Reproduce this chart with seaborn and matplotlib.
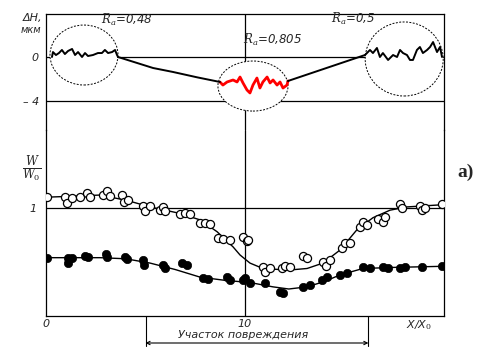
import numpy as np
import pandas as pd
import matplotlib
matplotlib.use("Agg")
import matplotlib.pyplot as plt
from matplotlib.patches import Ellipse
import seaborn as sns

# ---------------- data ----------------
prof1_x = [0.30, 0.35, 0.50, 0.65, 0.80, 0.95, 1.11, 1.31, 1.46, 1.61, 1.81, 1.96, 2.11, 2.36, 2.61, 2.81, 2.96, 3.12, 3.32, 3.47, 3.57, 3.62]
prof1_y = [0.00, 0.45, 0.18, 0.36, 0.64, 0.27, 0.55, 0.73, 0.18, 0.45, 0.00, 0.36, 0.09, 0.18, 0.36, 0.36, 0.64, 0.36, 0.45, 0.64, 0.18, 0.00]
prof2_x = [8.74, 8.89, 9.10, 9.40, 9.60, 9.75, 9.90, 10.10, 10.25, 10.40, 10.60, 10.75, 10.90, 11.11, 11.26, 11.41, 11.61, 11.76, 11.91, 12.11, 12.16]
prof2_y = [-2.27, -2.55, -2.27, -2.09, -2.27, -1.82, -2.36, -3.00, -3.27, -2.55, -1.91, -2.82, -2.27, -1.82, -2.36, -2.09, -2.55, -2.27, -2.82, -2.55, -2.18]
prof3_x = [16.03, 16.28, 16.43, 16.63, 16.78, 16.93, 17.19, 17.44, 17.64, 17.79, 17.94, 18.14, 18.29, 18.44, 18.64, 18.79, 18.94, 19.15, 19.30, 19.45, 19.65, 19.80, 19.90]
prof3_y = [0.18, 0.64, 0.36, 0.82, 0.00, 0.36, -0.27, 0.18, 0.00, 0.64, 0.36, 0.18, -0.27, -0.27, 0.64, 0.91, 0.36, 0.64, 0.91, 1.36, 0.45, 0.91, 0.00]
trend1_x = [3.62, 4.50, 5.38, 6.38, 7.60, 8.74]
trend1_y = [0.00, -0.50, -1.00, -1.36, -1.85, -2.27]
trend2_x = [12.16, 16.03]
trend2_y = [-2.18, 0.18]
ra_labels = ["$R_a$=0,48", "$R_a$=0,805", "$R_a$=0,5"]

open_x = [0.05, 0.95, 1.06, 1.31, 1.71, 2.06, 2.21, 2.86, 3.07, 3.22, 3.82, 3.92, 4.12, 4.87, 4.97, 5.23,
          5.73, 5.88, 5.98, 6.73, 6.98, 7.24, 7.74, 7.99, 8.24, 8.64, 8.89, 9.25, 9.90, 10.10, 10.15,
          10.90, 11.01, 11.26, 11.86, 12.01, 12.26, 12.91, 13.12, 13.92, 14.07, 14.27, 14.87, 15.03, 15.28,
          15.78, 15.93, 16.13, 16.68, 16.93, 17.04, 17.79, 17.89, 18.79, 18.89, 19.05, 19.90]
open_y = [1.10, 1.10, 1.05, 1.09, 1.10, 1.14, 1.10, 1.12, 1.16, 1.11, 1.12, 1.06, 1.07, 1.02, 0.97, 1.02,
          0.98, 1.01, 0.97, 0.94, 0.95, 0.94, 0.86, 0.86, 0.85, 0.72, 0.71, 0.70, 0.73, 0.69, 0.70,
          0.45, 0.41, 0.44, 0.44, 0.46, 0.45, 0.56, 0.54, 0.50, 0.46, 0.52, 0.63, 0.68, 0.68,
          0.82, 0.87, 0.84, 0.90, 0.87, 0.92, 1.04, 1.00, 1.02, 0.98, 1.00, 1.04]
open_fit_x = [0.0, 1.5, 2.71, 4.07, 5.23, 6.73, 7.74, 8.60, 9.40, 9.75, 10.25, 10.90, 11.76, 12.50, 13.12, 13.92, 14.77, 15.63, 16.43, 17.29, 18.14, 19.90]
open_fit_y = [1.10, 1.11, 1.12, 1.07, 1.01, 0.95, 0.89, 0.78, 0.64, 0.565, 0.49, 0.44, 0.43, 0.43, 0.44, 0.49, 0.61, 0.80, 0.91, 0.98, 1.01, 1.03]

fill_x = [0.05, 1.11, 1.11, 1.31, 1.96, 2.11, 3.02, 3.07, 3.97, 4.07, 4.87, 4.92, 5.88, 5.98, 6.83, 7.09,
          7.89, 8.14, 9.10, 9.25, 9.90, 10.00, 10.25, 11.01, 11.76, 11.91, 12.91, 13.27, 13.87, 14.12,
          14.77, 15.13, 15.93, 16.28, 16.93, 17.19, 17.79, 18.04, 18.89, 19.90]
fill_y = [0.54, 0.54, 0.49, 0.54, 0.56, 0.55, 0.57, 0.55, 0.55, 0.53, 0.52, 0.47, 0.47, 0.44, 0.49, 0.47,
          0.35, 0.34, 0.36, 0.33, 0.33, 0.35, 0.31, 0.31, 0.22, 0.21, 0.27, 0.29, 0.33, 0.36,
          0.38, 0.40, 0.45, 0.44, 0.45, 0.44, 0.44, 0.45, 0.45, 0.46]
fill_fit_x = [0.0, 2.71, 4.0, 5.23, 6.5, 7.74, 9.0, 10.25, 11.4, 12.2, 13.12, 14.0, 14.77, 15.93, 17.5, 19.90]
fill_fit_y = [0.54, 0.54, 0.53, 0.49, 0.43, 0.36, 0.33, 0.31, 0.27, 0.25, 0.27, 0.32, 0.38, 0.44, 0.45, 0.46]

damage_zone = [5.0, 16.2]

# ---------------- figure ----------------
sns.set_style("white")
plt.rcParams['font.family'] = ['DejaVu Sans']
plt.rcParams['mathtext.fontset'] = 'dejavuserif'

fig = plt.figure(figsize=(4.91, 3.64), dpi=100)
L, Wd = 46 / 491, 398 / 491
ax_bot = fig.add_axes([L, 1 - 316 / 364, Wd, 186 / 364])
ax_top = fig.add_axes([L, 1 - 130 / 364, Wd, 116 / 364])
for ax in (ax_top, ax_bot):
    ax.set_facecolor("none")
    ax.set_xlim(0, 20)
    for s in ax.spines.values():
        s.set_color("black")
        s.set_linewidth(0.9)
    ax.tick_params(length=0, labelsize=8)
ax_top.spines["bottom"].set_visible(False)
ax_bot.spines["top"].set_visible(False)
ax_top.set_ylim(-(130 - 57) / 11, (57 - 14) / 11)
ax_bot.set_ylim(0, 186 / 108)

# ---- bottom panel ----
ax_bot.axhline(1, color="black", lw=0.9, zorder=1)
ax_bot.axvline(10, color="black", lw=0.9, zorder=1)
sns.lineplot(x=open_fit_x, y=open_fit_y, ax=ax_bot, color="black", lw=1.0,
             sort=False, estimator=None, zorder=2)
sns.lineplot(x=fill_fit_x, y=fill_fit_y, ax=ax_bot, color="black", lw=1.0,
             sort=False, estimator=None, zorder=2)
sns.scatterplot(x=open_x, y=open_y, ax=ax_bot, marker="o", s=34, facecolor="white",
                edgecolor="black", linewidth=0.9, zorder=3)
sns.scatterplot(x=fill_x, y=fill_y, ax=ax_bot, marker="o", s=36, color="black",
                edgecolor="black", linewidth=0.5, zorder=3)
ax_bot.set_xlim(0, 20)
ax_bot.set_ylim(0, 186 / 108)
ax_bot.set_xticks([0, 10], labels=["0", "10"], style="italic")
ax_bot.tick_params(axis="x", pad=2)
ax_bot.set_yticks([1], labels=["1"], style="italic")
ax_bot.tick_params(axis="y", pad=7)
ax_bot.set_xlabel("")
ax_bot.set_ylabel("")
ax_bot.text(18.1, -0.02, "X/X$_0$", fontsize=8, style="italic", va="top", ha="left")

yd = -0.25
for xd in damage_zone:
    ax_bot.plot([xd, xd], [0, -0.28], color="black", lw=0.8, clip_on=False)
ax_bot.annotate("", xy=(damage_zone[0], yd), xytext=(damage_zone[1], yd),
                arrowprops=dict(arrowstyle="<->", lw=0.8, color="black",
                                shrinkA=0, shrinkB=0, mutation_scale=6),
                annotation_clip=False)
ax_bot.text(sum(damage_zone) / 2 - 0.7, -0.18, "Участок повреждения", fontsize=8,
            style="italic", ha="center", va="center")

# ---- top panel ----
ax_top.axhline(0, color="black", lw=0.9, zorder=1)
ax_top.axhline(-4, color="black", lw=0.9, zorder=1)
ax_top.axvline(10, color="black", lw=0.9, zorder=1)
circles = [(1.91, 0.18, 3.42, 5.45), (10.40, -2.64, 3.52, 4.55), (18.0, -0.18, 3.92, 6.73)]
for cx, cy, w, h in circles:
    ax_top.add_patch(Ellipse((cx, cy), w, h, facecolor="white", edgecolor="black",
                             lw=0.7, ls=(0, (2, 1.5)), zorder=2, clip_on=False))
ax_top.plot(prof1_x, prof1_y, color="black", lw=1.4, zorder=5)
ax_top.plot(prof2_x, prof2_y, color="red", lw=2.0, zorder=5)
ax_top.plot(prof3_x, prof3_y, color="black", lw=1.4, zorder=5)
ax_top.plot(trend1_x, trend1_y, color="black", lw=1.4, zorder=5)
ax_top.plot(trend2_x, trend2_y, color="black", lw=1.4, zorder=5)
ax_top.text(2.75, 3.36, ra_labels[0], fontsize=8.5, style="italic", va="center", ha="left")
ax_top.text(9.9, 1.55, ra_labels[1], fontsize=8.5, style="italic", va="center", ha="left")
ax_top.text(14.3, 3.45, ra_labels[2], fontsize=8.5, style="italic", va="center", ha="left")
ax_top.set_xticks([])
ax_top.set_yticks([0, -4], labels=["0", "– 4"], style="italic")
ax_top.tick_params(axis="y", pad=5)

fig.text(32 / 491, 1 - 18 / 364, "ΔH,", fontsize=8, style="italic", ha="center", va="center")
fig.text(31 / 491, 1 - 30 / 364, "мкм", fontsize=7, style="italic", ha="center", va="center")
fig.text(32 / 491, 1 - 169 / 364, r"$\frac{W}{W_0}$", fontsize=12, ha="center", va="center")
fig.text(466 / 491, 1 - 172 / 364, "а)", fontsize=14, fontweight="bold",
         family="Liberation Serif", ha="center", va="center")

fig.savefig("out.png", dpi=100)
